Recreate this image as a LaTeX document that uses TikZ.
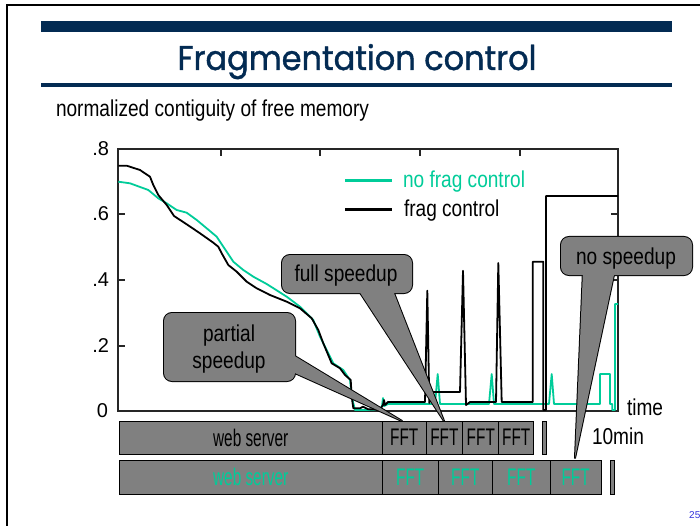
\documentclass[tikz,border=0pt]{standalone}
\usepackage{fontspec}
\setmainfont{Liberation Sans}
\newfontfamily\ttlfont[FakeBold=1.2]{Poppins}
\usepackage{graphicx}
\definecolor{navy}{RGB}{3,43,83}
\definecolor{fgreen}{RGB}{0,204,153}
\definecolor{cgray}{RGB}{128,128,128}
\definecolor{pblue}{RGB}{51,51,220}
\newcommand{\nrw}[1]{\scalebox{0.83}[1]{#1}}
\newcommand{\brw}[1]{\scalebox{0.64}[1]{#1}}
\begin{document}
\begin{tikzpicture}[x=1pt,y=-1pt,
  txt/.style={inner sep=0pt, outer sep=0pt, font=\fontsize{23}{25}\selectfont},
  ylab/.style={inner sep=0pt, outer sep=0pt, anchor=east, font=\fontsize{20}{22}\selectfont},
  barbox/.style={draw=black, fill=cgray, line width=0.8pt, inner sep=0pt, outer sep=0pt,
                 anchor=north west, font=\fontsize{24}{26}\selectfont},
  cbox/.style={rounded corners=8pt, inner sep=0pt, outer sep=0pt},
  cline/.style={draw=black, line width=2pt, line join=round},
  curve/.style={line width=1.8pt, line join=round},
  tick/.style={line width=1.2pt, black!85}]
\useasboundingbox (0,0) rectangle (700,526);
\fill[white] (0,0) rectangle (700,526);
% slide border
\draw[line width=2.4pt, black] (7,526) -- (7,5) -- (700,5);
% header
\fill[navy] (41,21) rectangle (672,32.5);
\fill[navy] (41,83.3) rectangle (672,86.7);
\node[anchor=base, inner sep=0pt, text=navy] (title) at (357,70)
  {\resizebox{359pt}{26pt}{\ttlfont Fragmentation control}};
\node[txt, anchor=base west] (sub) at (56,116.7) {\nrw{normalized contiguity of free memory}};
% plot frame and ticks
\draw[line width=1.2pt, black!85] (118,149) rectangle (618,411);
\foreach \yy in {214,280,346} {\draw[tick] (118,\yy) -- (125,\yy);}
\foreach \yy in {214,280} {\draw[tick] (611,\yy) -- (618,\yy);}
\foreach \xx in {221,320,420,520} {\draw[tick] (\xx,149) -- (\xx,156);}
\node[ylab] (y8) at (109,149) {.8};
\node[ylab] (y6) at (109,214) {.6};
\node[ylab] (y4) at (109,280) {.4};
\node[ylab] (y2) at (109,346) {.2};
\node[ylab] (y0) at (108,411) {0};
% green curve (no frag control)
\draw[curve, fgreen] (118.3,181.7) -- (130,183.3) -- (148.3,190) -- (158.3,198.3) -- (166.7,203.3)
 -- (176.7,210) -- (186.7,212.7) -- (196.7,220) -- (206.7,228.3) -- (216.7,236.7) -- (223.3,246.7)
 -- (233.3,261.7) -- (243.3,270) -- (253.3,276.7) -- (266.7,284) -- (286.7,296.7) -- (300,306.7)
 -- (313.3,320) -- (320,336.7) -- (326.7,350) -- (333.3,363.3) -- (343.3,370) -- (350,380)
 -- (351.7,396.7) -- (355,410) -- (366.7,410) -- (380,409.3) -- (382,406) -- (383,398) -- (384,406)
 -- (388,404) -- (435,404) -- (437.7,374) -- (440,404) -- (489,404) -- (491.7,374) -- (494,404)
 -- (549,404) -- (551.7,374) -- (554,404) -- (600,404) -- (600,374) -- (610,374) -- (610,404)
 -- (612.3,404) -- (612.3,410) -- (615,410) -- (615,304) -- (618,304);
% black curve (frag control)
\draw[curve, black] (118.3,165.7) -- (126.7,165.7) -- (140,170) -- (150,176.7) -- (153.3,185)
 -- (158.3,195) -- (166.7,205) -- (174,216) -- (186.7,224.3) -- (200,233.3) -- (213.3,242.7)
 -- (218.3,246.7) -- (221.7,253.3) -- (228.3,265) -- (236.7,271.7) -- (246.7,281.7) -- (256.7,288.3)
 -- (270,295) -- (286.7,301.7) -- (300,308.3) -- (311.7,318.3) -- (318.3,330) -- (323.3,343.3)
 -- (331.7,363.3) -- (340,368.3) -- (345,375) -- (350.7,380) -- (351.7,396.7) -- (353.3,408.3)
 -- (360,408.3) -- (363,406.7) -- (368.3,409.3) -- (380,409.3) -- (383,405) -- (384,400) -- (385,405)
 -- (388,402) -- (425,402) -- (427.3,290.7) -- (429.3,403) -- (431,392) -- (460,392) -- (463,270.7)
 -- (466,405) -- (470,402) -- (496,402) -- (498.3,263) -- (501.7,402) -- (532.7,402) -- (532.7,261.7)
 -- (543.3,261.7) -- (543.3,410) -- (546,410) -- (546,196) -- (618,196);
% legend
\draw[fgreen, line width=3pt] (345,181) -- (392,181);
\draw[black, line width=3pt] (345,210) -- (392,210);
\node[txt, anchor=base west, text=fgreen] (lg1) at (403,188) {\nrw{no frag control}};
\node[txt, anchor=base west] (lg2) at (404,217) {\nrw{frag control}};
% axis texts
\node[txt, anchor=base west] (time) at (627,415) {\nrw{time}};
\node[txt, anchor=base west] (tenmin) at (592,444) {\nrw{10min}};
% bar 1 (frag control)
\node[barbox, minimum width=263.4pt, minimum height=33.3pt] (ws1) at (119,421) {\brw{web server}};
\node[barbox, minimum width=43.6pt, minimum height=33.3pt] (f11) at (382.4,421) {\brw{FFT}};
\node[barbox, minimum width=36.8pt, minimum height=33.3pt] (f12) at (426,421) {\brw{FFT}};
\node[barbox, minimum width=36pt, minimum height=33.3pt] (f13) at (462.8,421) {\brw{FFT}};
\node[barbox, minimum width=34.8pt, minimum height=33.3pt] (f14) at (498.8,421) {\brw{FFT}};
\node[barbox, minimum width=3.8pt, minimum height=33.3pt] (e1) at (542.8,421) {};
% bar 2 (no frag control)
\node[barbox, text=fgreen, minimum width=263.4pt, minimum height=34pt] (ws2) at (119,460) {\brw{web server}};
\node[barbox, text=fgreen, minimum width=55.6pt, minimum height=34pt] (f21) at (382.4,460) {\brw{FFT}};
\node[barbox, text=fgreen, minimum width=54.6pt, minimum height=34pt] (f22) at (438,460) {\brw{FFT}};
\node[barbox, text=fgreen, minimum width=57.4pt, minimum height=34pt] (f23) at (492.6,460) {\brw{FFT}};
\node[barbox, text=fgreen, minimum width=51.3pt, minimum height=34pt] (f24) at (550,460) {\brw{FFT}};
\node[barbox, minimum width=3.8pt, minimum height=34pt] (e2) at (610.5,460) {};
% callouts: tips
\coordinate (ptip) at (402,421);
\coordinate (ftip) at (444,421);
\coordinate (ntip) at (575,458);
% callouts pass 1: outlines
\node[cbox, cline, minimum width=131pt, minimum height=68pt] (pbox) at (229.5,347) {};
\draw[cline] (288,352) -- (ptip) -- (288,370) -- cycle;
\node[cbox, cline, minimum width=130pt, minimum height=38pt] (fbox) at (347,274) {};
\draw[cline] (357,288) -- (ftip) -- (392,288) -- cycle;
\node[cbox, cline, minimum width=131pt, minimum height=38pt] (nbox) at (626.5,256) {};
\draw[cline] (583,270) -- (ntip) -- (615,270) -- cycle;
% callouts pass 2: fills
\fill[cgray] (288,352) -- (ptip) -- (288,370) -- cycle;
\fill[cgray, rounded corners=8pt] (pbox.south west) rectangle (pbox.north east);
\fill[cgray] (357,288) -- (ftip) -- (392,288) -- cycle;
\fill[cgray, rounded corners=8pt] (fbox.south west) rectangle (fbox.north east);
\fill[cgray] (583,270) -- (ntip) -- (615,270) -- cycle;
\fill[cgray, rounded corners=8pt] (nbox.south west) rectangle (nbox.north east);
% callout texts
\node[txt, anchor=base] (pt1) at (229,341.7) {\nrw{partial}};
\node[txt, anchor=base] (pt2) at (229,368.3) {\nrw{speedup}};
\node[txt, anchor=base] (ft) at (346,281.7) {\nrw{full speedup}};
\node[txt, anchor=base] (nt) at (626,265) {\nrw{no speedup}};
% page number
\node[inner sep=0pt, anchor=base west, text=pblue, font=\fontsize{10}{12}\selectfont] (pg) at (689,518) {25};
\end{tikzpicture}
\end{document}
